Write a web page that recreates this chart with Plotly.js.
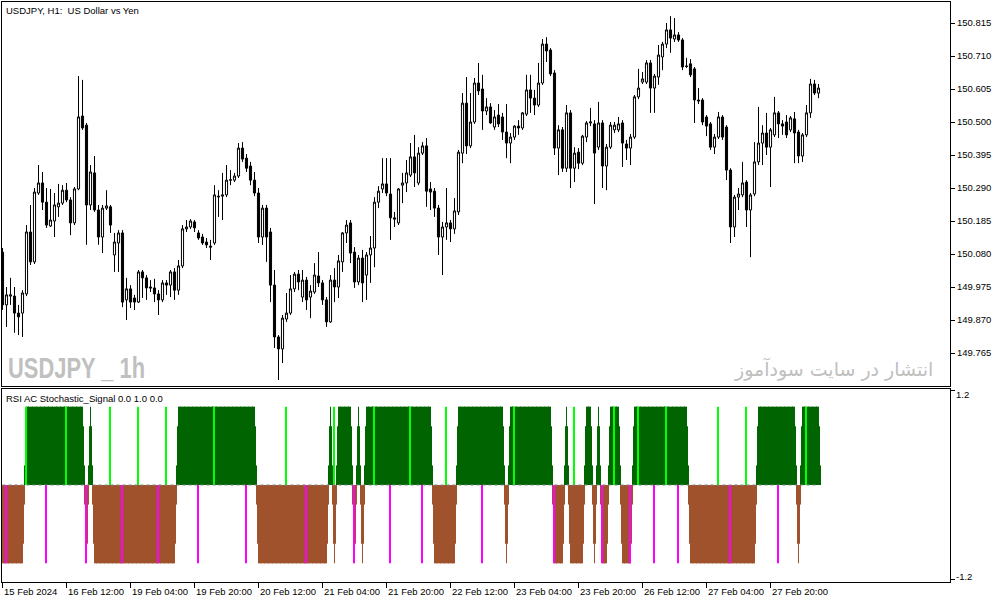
<!DOCTYPE html>
<html>
<head>
<meta charset="utf-8">
<script src="https://cdn.plot.ly/plotly-3.0.1.min.js"></script>
<style>
html,body{margin:0;padding:0;background:#fff;}
#chart{width:1003px;height:603px;}
</style>
</head>
<body>
<div id="chart"></div>
<script>
// ---------- DATA (USDJPY H1, 15 Feb 2024 20:00 -> 28 Feb 2024 08:00) ----------
const tickLabels = ['15 Feb 2024','16 Feb 12:00','19 Feb 04:00','19 Feb 20:00','20 Feb 12:00','21 Feb 04:00','21 Feb 20:00','22 Feb 12:00','23 Feb 04:00','23 Feb 20:00','26 Feb 12:00','27 Feb 04:00','27 Feb 20:00'];
const tickBars = [0,16,32,48,64,80,96,112,128,144,160,176,192];

const priceTicks = [150.815,150.710,150.605,150.500,150.395,150.290,150.185,150.080,149.975,149.870,149.765];
const priceTickLabels = ['150.815','150.710','150.605','150.500','150.395','150.290','150.185','150.080','149.975','149.870','149.765'];
const indTicks = [1.2, -1.2];
const indTickLabels = ['1.2', '-1.2'];

const open = [
150.086,149.918,149.946,149.946,149.892,149.892,149.953,150.150,150.055,150.274,
150.306,150.245,150.169,150.185,150.230,150.242,150.283,150.252,150.179,150.287,
150.519,150.490,150.236,150.338,150.220,150.134,150.226,150.230,150.077,150.115,
150.147,149.934,149.969,149.940,149.927,150.023,150.004,149.975,149.972,149.953,
149.934,149.988,149.981,150.023,149.965,150.042,150.160,150.166,150.182,150.147,
150.134,150.118,150.105,150.115,150.264,150.264,150.268,150.315,150.315,150.328,
150.417,150.385,150.360,150.315,150.274,150.134,150.226,150.150,149.981,149.816,
149.778,149.873,149.892,149.969,150.016,149.943,149.997,149.943,149.959,150.010,
149.988,149.934,149.864,149.997,149.975,150.055,150.147,150.179,150.086,149.991,
150.067,150.013,150.077,150.099,150.245,150.287,150.303,150.271,150.195,150.179,
150.299,150.306,150.331,150.389,150.306,150.401,150.424,150.287,150.280,150.226,
150.134,150.166,150.179,150.160,150.214,150.401,150.560,150.424,150.500,150.624,
150.605,150.535,150.548,150.484,150.522,150.516,150.468,150.433,150.452,150.487,
150.481,150.525,150.602,150.576,150.554,150.624,150.748,150.729,150.656,150.417,
150.475,150.353,150.529,150.353,150.404,150.369,150.452,150.497,150.494,150.420,
150.497,150.360,150.420,150.475,150.475,150.497,150.430,150.417,150.452,150.580,
150.627,150.627,150.688,150.608,150.643,150.707,150.748,150.793,150.764,150.777,
150.761,150.678,150.685,150.669,150.570,150.570,150.516,150.494,150.420,150.452,
150.516,150.484,150.347,150.166,150.261,150.268,150.309,150.220,150.271,150.373,
150.433,150.465,150.420,150.459,150.529,150.494,150.500,150.475,150.510,150.468,
150.392,150.459,150.529,150.621,150.592
];
const high = [
150.099,149.975,150.004,149.975,149.918,149.965,150.172,150.236,150.290,150.363,
150.341,150.290,150.287,150.274,150.303,150.299,150.306,150.261,150.293,150.646,
150.634,150.497,150.363,150.392,150.236,150.236,150.283,150.236,150.147,150.156,
150.156,150.004,149.981,149.950,150.029,150.029,150.013,149.997,150.001,149.965,
149.997,149.997,150.029,150.035,150.061,150.172,150.188,150.191,150.188,150.156,
150.144,150.131,150.125,150.299,150.283,150.338,150.363,150.347,150.338,150.433,
150.436,150.398,150.373,150.341,150.290,150.236,150.236,150.163,150.029,149.822,
149.886,149.956,150.013,150.023,150.029,150.029,150.007,149.981,150.051,150.086,
149.997,149.943,150.013,150.035,150.077,150.150,150.188,150.188,150.102,150.077,
150.093,150.086,150.137,150.261,150.296,150.385,150.385,150.385,150.214,150.290,
150.338,150.379,150.433,150.459,150.420,150.436,150.449,150.309,150.290,150.236,
150.182,150.290,150.188,150.258,150.411,150.592,150.643,150.592,150.640,150.688,
150.650,150.576,150.560,150.538,150.557,150.529,150.557,150.465,150.490,150.506,
150.532,150.650,150.650,150.602,150.688,150.764,150.770,150.735,150.665,150.490,
150.484,150.554,150.538,150.420,150.417,150.459,150.503,150.545,150.506,150.564,
150.506,150.430,150.500,150.500,150.516,150.506,150.443,150.462,150.586,150.669,
150.659,150.697,150.697,150.653,150.745,150.755,150.815,150.837,150.831,150.786,
150.767,150.704,150.700,150.675,150.608,150.576,150.522,150.500,150.462,150.532,
150.522,150.490,150.353,150.268,150.290,150.373,150.315,150.274,150.436,150.548,
150.490,150.529,150.481,150.580,150.535,150.506,150.522,150.519,150.532,150.475,
150.465,150.554,150.637,150.634,150.621
];
const low = [
149.902,149.848,149.918,149.829,149.822,149.816,149.946,150.045,150.048,150.268,
150.220,150.163,150.166,150.134,150.198,150.236,150.245,150.140,150.172,150.283,
150.475,150.109,150.220,150.214,150.109,150.083,150.220,150.147,150.023,150.023,
149.911,149.870,149.908,149.902,149.924,149.940,149.934,149.959,149.927,149.886,
149.927,149.950,149.943,149.934,149.950,150.035,150.150,150.160,150.150,150.125,
150.109,150.099,150.061,150.109,150.198,150.188,150.261,150.299,150.309,150.322,
150.373,150.341,150.299,150.264,150.115,150.109,150.055,149.927,149.781,149.679,
149.733,149.864,149.886,149.959,149.965,149.927,149.902,149.876,149.953,149.975,
149.918,149.848,149.861,149.927,149.940,150.023,150.115,150.051,149.972,149.981,
149.927,149.934,149.988,150.038,150.226,150.274,150.264,150.125,150.166,150.172,
150.242,150.277,150.325,150.293,150.299,150.395,150.230,150.220,150.198,150.077,
150.013,150.125,150.118,150.144,150.204,150.369,150.398,150.417,150.494,150.586,
150.475,150.522,150.494,150.475,150.484,150.443,150.385,150.369,150.443,150.459,
150.475,150.519,150.529,150.522,150.548,150.618,150.691,150.646,150.395,150.331,
150.341,150.341,150.290,150.309,150.350,150.363,150.436,150.487,150.239,150.411,
150.290,150.283,150.414,150.465,150.468,150.357,150.379,150.363,150.446,150.573,
150.621,150.621,150.529,150.529,150.618,150.665,150.735,150.720,150.755,150.755,
150.665,150.672,150.643,150.497,150.557,150.490,150.455,150.411,150.398,150.446,
150.443,150.315,150.115,150.134,150.220,150.261,150.166,150.070,150.264,150.363,
150.363,150.395,150.293,150.452,150.449,150.459,150.449,150.468,150.369,150.369,
150.373,150.452,150.513,150.586,150.576
];
const close = [
149.918,149.950,149.950,149.892,149.880,149.956,150.150,150.055,150.277,150.306,
150.245,150.172,150.188,150.236,150.242,150.283,150.252,150.179,150.287,150.516,
150.481,150.236,150.341,150.220,150.134,150.226,150.233,150.172,150.118,150.147,
149.927,149.969,149.927,149.927,150.023,150.004,149.972,149.972,149.953,149.934,
149.988,149.981,150.023,149.965,150.042,150.160,150.166,150.185,150.163,150.131,
150.115,150.109,150.102,150.268,150.262,150.268,150.315,150.316,150.328,150.417,
150.382,150.353,150.315,150.274,150.134,150.226,150.134,149.981,149.816,149.778,
149.876,149.892,149.969,150.016,149.991,149.997,149.934,149.962,150.013,149.988,
149.934,149.864,149.997,149.975,150.058,150.147,150.172,150.083,149.991,150.067,
149.988,150.077,150.099,150.245,150.280,150.303,150.274,150.195,150.191,150.287,
150.306,150.338,150.389,150.338,150.401,150.424,150.280,150.277,150.226,150.134,
150.166,150.179,150.160,150.217,150.404,150.560,150.424,150.500,150.624,150.599,
150.535,150.548,150.497,150.516,150.494,150.468,150.433,150.452,150.487,150.481,
150.529,150.602,150.576,150.554,150.624,150.748,150.726,150.653,150.417,150.475,
150.353,150.529,150.353,150.401,150.369,150.455,150.497,150.500,150.401,150.497,
150.360,150.420,150.490,150.490,150.494,150.433,150.417,150.452,150.580,150.608,
150.637,150.688,150.608,150.646,150.713,150.748,150.793,150.767,150.777,150.761,
150.675,150.677,150.650,150.570,150.567,150.500,150.487,150.420,150.452,150.516,
150.452,150.347,150.166,150.261,150.271,150.306,150.220,150.268,150.373,150.433,
150.465,150.420,150.475,150.529,150.494,150.487,150.459,150.513,150.465,150.392,
150.459,150.529,150.621,150.592,150.608
];

// indicator state per bar: 1 = bullish (green), -1 = bearish (brown)
const signal = [
-1,-1,-1,-1,-1,-1,1,1,1,1,
1,1,1,1,1,1,1,1,1,1,
1,-1,1,-1,-1,-1,-1,-1,-1,-1,
-1,-1,-1,-1,-1,-1,-1,-1,-1,-1,
-1,-1,-1,-1,1,1,1,1,1,1,
1,1,1,1,1,1,1,1,1,1,
1,1,1,1,-1,-1,-1,-1,-1,-1,
-1,-1,-1,-1,-1,-1,-1,-1,-1,-1,
-1,-1,1,-1,1,1,1,1,-1,1,
-1,1,1,1,1,1,1,1,1,1,
1,1,1,1,1,1,1,1,-1,-1,
-1,-1,-1,-1,1,1,1,1,1,1,
1,1,1,1,1,1,-1,1,1,1,
1,1,1,1,1,1,1,1,-1,-1,
-1,1,-1,-1,-1,-1,1,1,-1,1,
-1,-1,1,1,1,-1,-1,-1,1,1,
1,1,1,1,1,1,1,1,1,1,
1,1,-1,-1,-1,-1,-1,-1,-1,-1,
-1,-1,-1,-1,-1,-1,-1,-1,-1,1,
1,1,1,1,1,1,1,1,1,-1,
1,1,1,1,1
];
const buySignalBars  = [6,16,27,34,41,53,71,83,93,102,111,128,143,153,159,166,179,186,201];
const sellSignalBars = [1,11,21,30,39,49,61,76,88,97,105,120,138,150,157,163,169,182,194];
const histLevels = [0.25, 0.75, 1.0];

// ---------- STYLE ----------
const GREEN = '#006400', BROWN = '#A0522D', LIME = '#00FF00', MAGENTA = '#FF00FF';
const FONT = 'Liberation Sans, Arial, sans-serif';
const FS = 9.5;
const halfWidths = [0.625, 0.375, 0.125]; // tapered edges of isolated bars
const joinHalf = 0.625;                  // overlap between same-colour neighbours

const idx = open.map((_, i) => i);
const traces = [];

traces.push({
  type: 'candlestick', x: idx, open: open, high: high, low: low, close: close,
  xaxis: 'x', yaxis: 'y',
  increasing: {line: {color: '#000', width: 1}, fillcolor: '#ffffff'},
  decreasing: {line: {color: '#000', width: 1}, fillcolor: '#000000'},
  whiskerwidth: 0, hoverinfo: 'skip'
});

histLevels.forEach((lv, k) => {
  const xs = [], ys = [], offs = [], ws = [], cols = [];
  signal.forEach((s, i) => {
    if (!s) return;
    const l = signal[i - 1] === s ? -joinHalf : -halfWidths[k];
    const r = signal[i + 1] === s ? joinHalf : halfWidths[k];
    xs.push(i); ys.push(s * lv); offs.push(l); ws.push(r - l);
    cols.push(s > 0 ? GREEN : BROWN);
  });
  traces.push({type: 'bar', x: xs, y: ys, offset: offs, width: ws,
    marker: {color: cols, line: {width: 0}}, xaxis: 'x2', yaxis: 'y2', hoverinfo: 'skip'});
});

traces.push({type: 'scatter', mode: 'lines', x: [0, signal.length - 1], y: [0, 0],
  line: {color: '#7a8c8c', width: 1, dash: 'dot'}, xaxis: 'x2', yaxis: 'y2', hoverinfo: 'skip'});

traces.push({type: 'bar', x: buySignalBars, y: buySignalBars.map(() => histLevels[2]), width: 0.5, offset: -0.375,
  marker: {color: LIME, line: {width: 0}}, xaxis: 'x2', yaxis: 'y2', hoverinfo: 'skip'});
traces.push({type: 'bar', x: sellSignalBars, y: sellSignalBars.map(() => -histLevels[2]), width: 0.5, offset: -0.375,
  marker: {color: MAGENTA, line: {width: 0}}, xaxis: 'x2', yaxis: 'y2', hoverinfo: 'skip'});

const xRange = [-0.125, 236.875];
const annotations = [];
tickLabels.forEach((t, k) => {
  annotations.push({text: t, x: tickBars[k], xref: 'x2', y: -0.0172, yref: 'paper', xshift: -1,
    xanchor: 'left', yanchor: 'middle', showarrow: false, font: {family: FONT, size: FS, color: '#000'}});
});
// indicator window scale labels (kept inside the window like MT5)
[0.3241, 0.0103].forEach((py, k) => {
  annotations.push({text: indTickLabels[k], x: 1.0042, y: py, xref: 'paper', yref: 'paper',
    xanchor: 'left', yanchor: 'middle', showarrow: false, font: {family: FONT, size: FS, color: '#000'}});
});
annotations.push({text: 'USDJPY, H1:\u00A0 US Dollar vs Yen', x: 0.0021, y: 0.9853, xref: 'paper', yref: 'paper',
  xanchor: 'left', yanchor: 'middle', showarrow: false, font: {family: FONT, size: FS, color: '#000'}});
annotations.push({text: 'RSI AC Stochastic_Signal 0.0 1.0 0.0', x: 0.0021, y: 0.3164, xref: 'paper', yref: 'paper',
  xanchor: 'left', yanchor: 'middle', showarrow: false, font: {family: FONT, size: FS, color: '#000'}});
const WATERMARK = 'USDJPY _ 1h';
annotations.push({text: WATERMARK, x: 0.0063, y: 0.3698, xref: 'paper', yref: 'paper',
  xanchor: 'left', yanchor: 'middle', showarrow: false,
  font: {family: 'Liberation Sans, Arial, sans-serif', size: 29, color: '#c0c0c0', weight: 700}});
annotations.push({text: 'انتشار در سایت سودآموز', x: 0.9842, y: 0.3672, xref: 'paper', yref: 'paper',
  xanchor: 'right', yanchor: 'middle', showarrow: false,
  font: {family: 'DejaVu Sans, sans-serif', size: 19, color: '#c0c0c0'}});

const layout = {
  width: 1003, height: 603,
  margin: {l: 2, r: 53, t: 2, b: 21, pad: 0},
  paper_bgcolor: '#ffffff', plot_bgcolor: '#ffffff',
  showlegend: false, barmode: 'overlay', boxgap: 0.25,
  font: {family: FONT, size: FS, color: '#000'},
  xaxis: {domain: [0, 1], anchor: 'y', range: xRange, showgrid: false, zeroline: false,
    showticklabels: false, ticks: '', showline: true, mirror: true, linecolor: '#000', linewidth: 1,
    rangeslider: {visible: false}, fixedrange: true},
  xaxis2: {domain: [0, 1], anchor: 'y2', range: xRange, showgrid: false, zeroline: false,
    tickvals: tickBars, ticks: 'outside', ticklen: 5, tickcolor: '#000', showticklabels: false,
    showline: true, mirror: true, linecolor: '#000', linewidth: 1, fixedrange: true},
  yaxis: {domain: [0.3371, 1], anchor: 'x', side: 'right', range: [149.6585, 150.8818],
    tickvals: priceTicks, ticktext: priceTickLabels, ticks: 'outside', ticklen: 4, tickcolor: '#000',
    tickfont: {family: FONT, size: FS, color: '#000'},
    showline: true, mirror: true, linecolor: '#000', linewidth: 1, showgrid: false, zeroline: false, fixedrange: true},
  yaxis2: {domain: [0, 0.3328], anchor: 'x2', side: 'right', range: [-1.238, 1.2255],
    tickvals: indTicks, ticks: 'outside', ticklen: 4, tickcolor: '#000', showticklabels: false,
    showline: true, mirror: true, linecolor: '#000', linewidth: 1, showgrid: false, zeroline: false, fixedrange: true},
  annotations: annotations
};

Plotly.newPlot('chart', traces, layout, {staticPlot: true, displayModeBar: false}).then(gd => {
  // condense the watermark horizontally (MT5 draws it in a narrow bold face)
  const targetWidth = 137;
  gd.querySelectorAll('.annotation').forEach(a => {
    const t = a.querySelector('text');
    if (t && t.textContent === WATERMARK) {
      const g = a.querySelector('.annotation-text-g');
      const bb = t.getBBox();
      const s = targetWidth / bb.width;
      const cur = g.getAttribute('transform') || '';
      g.setAttribute('transform', cur + ' translate(' + bb.x + ',0) scale(' + s + ',1) translate(' + (-bb.x) + ',0)');
    }
  });
});
</script>
</body>
</html>
